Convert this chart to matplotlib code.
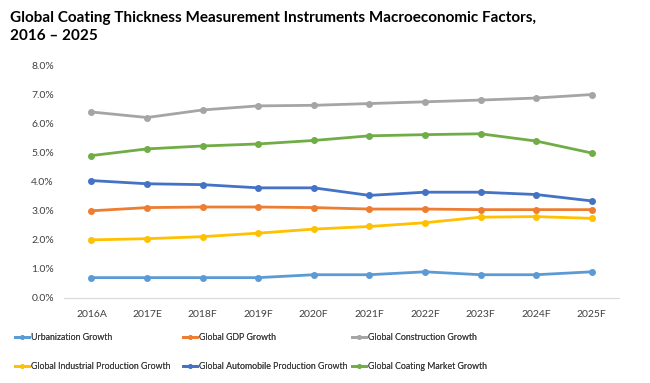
import matplotlib.pyplot as plt
from matplotlib.ticker import FuncFormatter

years = ["2016A", "2017E", "2018F", "2019F", "2020F", "2021F", "2022F", "2023F", "2024F", "2025F"]

urbanization = [0.7, 0.7, 0.7, 0.7, 0.8, 0.8, 0.9, 0.8, 0.8, 0.9]
gdp = [3.0, 3.11, 3.13, 3.13, 3.11, 3.06, 3.06, 3.04, 3.04, 3.04]
construction = [6.40, 6.21, 6.47, 6.61, 6.63, 6.69, 6.75, 6.81, 6.88, 7.0]
industrial = [2.0, 2.04, 2.11, 2.23, 2.37, 2.46, 2.59, 2.78, 2.80, 2.74]
automobile = [4.04, 3.93, 3.90, 3.79, 3.79, 3.53, 3.64, 3.64, 3.56, 3.34]
coating = [4.90, 5.13, 5.23, 5.30, 5.42, 5.58, 5.62, 5.65, 5.40, 4.99]

series = [
    ("Urbanization Growth", urbanization, "#5B9BD5"),
    ("Global GDP Growth", gdp, "#ED7D31"),
    ("Global Construction Growth", construction, "#A5A5A5"),
    ("Global Industrial Production Growth", industrial, "#FFC000"),
    ("Global Automobile Production Growth", automobile, "#4472C4"),
    ("Global Coating Market Growth", coating, "#70AD47"),
]

plt.rcParams['font.family'] = ['Lato', 'DejaVu Sans']

fig = plt.figure(figsize=(6.5, 3.83), dpi=100)
ax = fig.add_axes([0.098, 0.222, 0.855, 0.607])

x = list(range(len(years)))
lines = []
for name, vals, col in series:
    ln, = ax.plot(x, vals, color=col, lw=2, marker='o', ms=4, label=name)
    lines.append(ln)

ax.set_xlim(-0.5, len(years) - 0.5)
ax.set_ylim(0, 8)
ax.set_yticks(range(0, 9))
ax.yaxis.set_major_formatter(FuncFormatter(lambda v, p: "%.1f%%" % v))
ax.set_xticks(x)
ax.set_xticklabels(years)
ax.tick_params(axis='both', length=0, labelsize=7.5, labelcolor='#404040')
ax.tick_params(axis='y', pad=7)
ax.tick_params(axis='x', pad=9)
for s in ['top', 'right', 'left']:
    ax.spines[s].set_visible(False)
ax.spines['bottom'].set_color('#D9D9D9')

fig.text(0.015, 0.972, "Global Coating Thickness Measurement Instruments Macroeconomic Factors,\n2016 \u2013 2025",
         fontsize=11, fontweight='bold', va='top', ha='left', linespacing=1.35)

# one legend per column, filled row by row like the original
col_x = [0.023, 0.2815, 0.5415]
for i, cx in enumerate(col_x):
    pair = [lines[i], lines[i + 3]]
    leg = fig.legend(pair, [l.get_label() for l in pair], loc='upper left',
                     bbox_to_anchor=(cx, 0.131), ncol=1, frameon=False,
                     fontsize=6.3, handlelength=1.6, handletextpad=0.2,
                     labelspacing=2.3, borderaxespad=0, borderpad=0,
                     markerscale=0.6, labelcolor='#404040')
    fig.add_artist(leg)

fig.savefig("out.png", dpi=100)
